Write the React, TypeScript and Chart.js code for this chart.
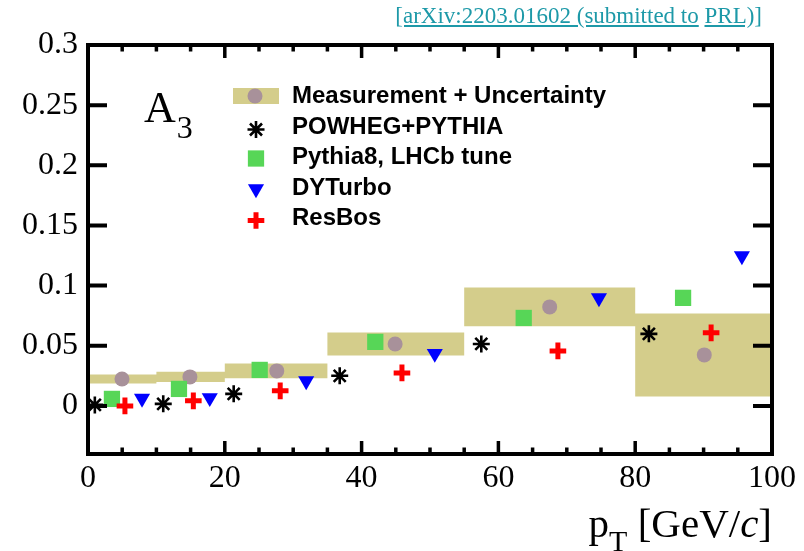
import React, { useEffect, useRef } from 'react';
import { Chart, registerables } from 'chart.js';
import { drawPoint } from 'chart.js/helpers';

Chart.register(...registerables);

// ---------------- data ----------------
const binEdges = [0, 10, 20, 35, 55, 80, 100];
const measX = [4.97, 14.9, 27.6, 44.9, 67.5, 90.1];
const measY = [0.0224, 0.0241, 0.0291, 0.0515, 0.0823, 0.0424];
const measErr = [0.0037, 0.0042, 0.0062, 0.0096, 0.0162, 0.0345];
const powhegX = [1.0, 11.0, 21.3, 36.8, 57.5, 82.0];
const powhegY = [0.0008, 0.0017, 0.01, 0.025, 0.0515, 0.0599];
const pythiaX = [3.5, 13.3, 25.1, 42.0, 63.7, 87.0];
const pythiaY = [0.0058, 0.0141, 0.0299, 0.0532, 0.0731, 0.0898];
const dyturboX = [7.9, 17.8, 31.9, 50.7, 74.7, 95.6];
const dyturboY = [0.0062, 0.0067, 0.0208, 0.0435, 0.0898, 0.1247];
const resbosX = [5.4, 15.4, 28.1, 45.9, 68.7, 91.1];
const resbosY = [0.0, 0.0042, 0.0125, 0.0274, 0.0457, 0.0607];
const xTicks = [0, 20, 40, 60, 80, 100];
const yTicks = [0, 0.05, 0.1, 0.15, 0.2, 0.25, 0.3];
const seriesNames = [
  'Measurement + Uncertainty',
  'POWHEG+PYTHIA',
  'Pythia8, LHCb tune',
  'DYTurbo',
  'ResBos',
];
const panelLabel = 'A';
const panelSub = '3';
const xTitleMain = 'p';
const xTitleSub = 'T';
const xTitleRest = ' [GeV/';
const xTitleItalic = 'c';
const xTitleEnd = ']';

// ---------------- styles ----------------
const SERIF = '"Liberation Serif", "Times New Roman", Times, serif';
const SANS = '"Liberation Sans", Arial, Helvetica, sans-serif';
const BAND = '#d4cd8b';
const MEAS = '#a8919a';
const GREEN = '#57d657';
const BLUE = '#0000ff';
const RED = '#ff0000';

const zip = (xs: number[], ys: number[]) => xs.map((x, i) => ({ x, y: ys[i] }));
const nb = measY.length;
const bandUpper = binEdges.map((e, i) => {
  const k = Math.min(i, nb - 1);
  return { x: e, y: measY[k] + measErr[k] };
});
const bandLower = binEdges.map((e, i) => {
  const k = Math.min(i, nb - 1);
  return { x: e, y: measY[k] - measErr[k] };
});

type Sym = { style: string; radius: number; rotation: number; borderWidth: number; fill: string; stroke: string };
const symbols: Sym[] = [
  { style: 'circle', radius: 7.5, rotation: 0, borderWidth: 0, fill: MEAS, stroke: MEAS },
  { style: 'star', radius: 8.5, rotation: 0, borderWidth: 2.6, fill: '#000', stroke: '#000' },
  { style: 'rect', radius: 11.5, rotation: 0, borderWidth: 0, fill: GREEN, stroke: GREEN },
  { style: 'triangle', radius: 9.3, rotation: 180, borderWidth: 0, fill: BLUE, stroke: BLUE },
  { style: 'cross', radius: 8.3, rotation: 0, borderWidth: 5, fill: RED, stroke: RED },
];

const pointSets = [
  zip(measX, measY),
  zip(powhegX, powhegY),
  zip(pythiaX, pythiaY),
  zip(dyturboX, dyturboY),
  zip(resbosX, resbosY),
];

const rootPlugin = {
  id: 'rootFrame',
  afterDraw(chart: any) {
    const { ctx, chartArea: a, scales } = chart;
    const xs = scales.x;
    const ys = scales.y;
    ctx.save();
    // frame
    ctx.strokeStyle = '#000';
    ctx.lineWidth = 4;
    ctx.strokeRect(a.left, a.top, a.right - a.left, a.bottom - a.top);
    // x ticks (bottom and top, inward)
    ctx.lineWidth = 3.5;
    ctx.beginPath();
    const xt = xs.ticks.map((t: any) => t.value);
    for (let i = 0; i < xt.length; i++) {
      const px = xs.getPixelForValue(xt[i]);
      ctx.moveTo(px, a.bottom);
      ctx.lineTo(px, a.bottom - 13);
      ctx.moveTo(px, a.top);
      ctx.lineTo(px, a.top + 13);
      if (i < xt.length - 1) {
        const step = (xt[i + 1] - xt[i]) / 4;
        for (let k = 1; k < 4; k++) {
          const mx = xs.getPixelForValue(xt[i] + k * step);
          ctx.moveTo(mx, a.bottom);
          ctx.lineTo(mx, a.bottom - 6.5);
          ctx.moveTo(mx, a.top);
          ctx.lineTo(mx, a.top + 6.5);
        }
      }
    }
    ctx.stroke();
    // y ticks (left and right, inward)
    ctx.lineWidth = 4;
    ctx.beginPath();
    ys.ticks.forEach((t: any) => {
      const py = ys.getPixelForValue(t.value);
      ctx.moveTo(a.left, py);
      ctx.lineTo(a.left + 19, py);
      ctx.moveTo(a.right, py);
      ctx.lineTo(a.right - 19, py);
    });
    ctx.stroke();

    // legend
    const symX = 256;
    const textX = 292;
    const baselines = [103, 134, 163.5, 195, 225];
    const symY = [96, 129.5, 158.5, 189, 220.5];
    // band swatch
    ctx.fillStyle = BAND;
    ctx.fillRect(233, 88, 46, 16);
    symbols.forEach((s, i) => {
      ctx.fillStyle = s.fill;
      ctx.strokeStyle = s.stroke;
      ctx.lineWidth = s.borderWidth || 1;
      drawPoint(ctx, { pointStyle: s.style, radius: s.radius, rotation: s.rotation, borderWidth: s.borderWidth } as any, symX - (i === 0 ? 1 : 0), symY[i]);
    });
    ctx.fillStyle = '#000';
    ctx.font = `bold 24px ${SANS}`;
    ctx.textAlign = 'left';
    ctx.textBaseline = 'alphabetic';
    seriesNames.forEach((n, i) => ctx.fillText(n, textX, baselines[i]));

    // panel label A_3
    ctx.font = `44px ${SERIF}`;
    ctx.fillText(panelLabel, 144, 122);
    const wA = ctx.measureText(panelLabel).width;
    ctx.font = `32px ${SERIF}`;
    ctx.fillText(panelSub, 144 + wA + 1, 138);

    // x-axis title p_T [GeV/c]
    const big = `41px ${SERIF}`;
    const small = `30px ${SERIF}`;
    const ital = `italic 41px ${SERIF}`;
    ctx.font = big;
    const w1 = ctx.measureText(xTitleMain).width;
    ctx.font = small;
    const w2 = ctx.measureText(xTitleSub).width;
    ctx.font = big;
    const w3 = ctx.measureText(xTitleRest).width;
    ctx.font = ital;
    const w4 = ctx.measureText(xTitleItalic).width;
    ctx.font = big;
    const w5 = ctx.measureText(xTitleEnd).width;
    let x0 = a.right - (w1 + w2 + w3 + w4 + w5);
    const base = 537;
    ctx.font = big;
    ctx.fillText(xTitleMain, x0, base);
    x0 += w1;
    ctx.font = small;
    ctx.fillText(xTitleSub, x0, 551);
    x0 += w2;
    ctx.font = big;
    ctx.fillText(xTitleRest, x0, base);
    x0 += w3;
    ctx.font = ital;
    ctx.fillText(xTitleItalic, x0, base);
    x0 += w4;
    ctx.font = big;
    ctx.fillText(xTitleEnd, x0, base);
    ctx.restore();
  },
};

export default function App() {
  const ref = useRef<HTMLCanvasElement | null>(null);
  useEffect(() => {
    if (!ref.current) return;
    const pointDatasets = pointSets.map((data, i) => {
      const s = symbols[i];
      return {
        label: seriesNames[i],
        data,
        showLine: false,
        pointStyle: s.style,
        pointRadius: s.radius,
        pointRotation: s.rotation,
        pointBackgroundColor: s.fill,
        pointBorderColor: s.stroke,
        pointBorderWidth: s.borderWidth,
        order: 5 - i * 0.1,
      };
    });
    const chart = new Chart(ref.current, {
      type: 'line',
      data: {
        datasets: [
          {
            label: 'band upper',
            data: bandUpper,
            stepped: true,
            borderColor: 'rgba(0,0,0,0)',
            borderWidth: 0,
            pointRadius: 0,
            fill: false,
            order: 10,
          },
          {
            label: 'band lower',
            data: bandLower,
            stepped: true,
            borderColor: 'rgba(0,0,0,0)',
            borderWidth: 0,
            pointRadius: 0,
            fill: '-1',
            backgroundColor: BAND,
            order: 9,
          },
          ...pointDatasets,
        ] as any,
      },
      options: {
        animation: false,
        responsive: false,
        events: [],
        layout: { padding: { left: 0, right: 32, top: 45, bottom: 0 } },
        plugins: { legend: { display: false }, tooltip: { enabled: false } },
        scales: {
          x: {
            type: 'linear',
            min: 0,
            max: 100,
            grid: { display: false, drawTicks: false },
            border: { display: false },
            title: { display: false },
            ticks: {
              color: '#000',
              font: { family: SERIF, size: 32 },
              padding: 5,
              maxRotation: 0,
              autoSkip: false,
            },
            afterBuildTicks: (s: any) => {
              s.ticks = xTicks.map((v) => ({ value: v }));
            },
            afterFit: (s: any) => {
              s.height = 97;
            },
          },
          y: {
            type: 'linear',
            min: -0.04,
            max: 0.3,
            grid: { display: false, drawTicks: false },
            border: { display: false },
            title: { display: false },
            ticks: {
              color: '#000',
              font: { family: SERIF, size: 32 },
              padding: 10,
              autoSkip: false,
              callback: (v: any) => String(v),
            },
            afterBuildTicks: (s: any) => {
              s.ticks = yTicks.map((v) => ({ value: v }));
            },
            afterFit: (s: any) => {
              s.width = 88;
            },
          },
        },
      } as any,
      plugins: [rootPlugin],
    });
    return () => chart.destroy();
  }, []);

  const linkStyle: React.CSSProperties = { textDecoration: 'underline' };
  return (
    <div style={{ position: 'fixed', left: 0, top: 0, width: 804, height: 551, background: '#fff', overflow: 'hidden' }}>
      <canvas ref={ref} width={804} height={551} style={{ display: 'block', width: 804, height: 551 }} />
      <div
        style={{
          position: 'absolute',
          right: 42,
          top: 4,
          fontFamily: SERIF,
          fontSize: 23,
          lineHeight: '23px',
          color: '#1d99a8',
          whiteSpace: 'nowrap',
        }}
      >
        <span style={linkStyle}>[arXiv:2203.01602 (submitted to</span>
        <span> </span>
        <span style={linkStyle}>PRL)]</span>
      </div>
    </div>
  );
}
